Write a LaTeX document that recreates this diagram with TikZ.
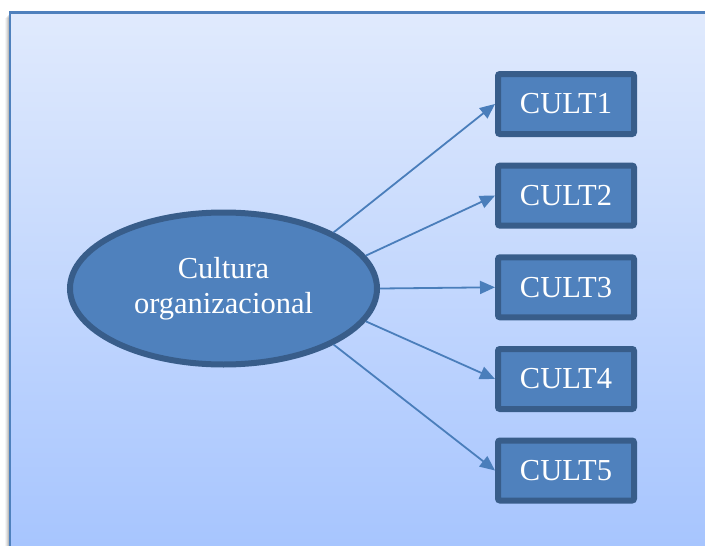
\documentclass[tikz,border=0pt]{standalone}
\usepackage{fontspec}
\setmainfont{Liberation Serif}
\usetikzlibrary{arrows.meta,shapes.geometric}
\definecolor{panelTop}{RGB}{224,234,253}
\definecolor{panelBot}{RGB}{167,197,254}
\definecolor{frameBlue}{RGB}{79,129,189}
\definecolor{shapeFill}{RGB}{79,129,189}
\definecolor{shapeLine}{RGB}{56,93,138}
\definecolor{linkBlue}{RGB}{74,126,187}
\tikzset{
  factor/.style={ellipse, draw=shapeLine, fill=shapeFill, line width=6pt,
    minimum width=307pt, minimum height=152pt, inner sep=0pt,
    text=white, align=center, font=\fontsize{30.5}{35}\selectfont},
  itembox/.style={rectangle, rounded corners=2pt, draw=shapeLine, fill=shapeFill,
    line width=6pt, minimum width=136pt, minimum height=60pt, inner sep=0pt,
    text=white, font=\fontsize{30.5}{35}\selectfont},
  link/.style={draw=linkBlue, line width=1.8pt,
    -{Triangle[length=15pt,width=13pt]}}
}
\begin{document}
\begin{tikzpicture}[x=1pt,y=-1pt]
  \fill[white] (0,0) rectangle (705,546);
  \useasboundingbox (0,0) rectangle (705,546);
  \clip (0,0) rectangle (705,546);
  % soft shadow to the left of the panel
  \foreach \d/\o in {5/0.04,4/0.06,3/0.08,2/0.10,1/0.12}{
    \fill[black,opacity=\o] (10-\d,12.5+\d) rectangle (11,546);
  }
  % gradient panel, running past the page on the right and bottom
  \fill[panelBot] (10,12.5) rectangle (720,560);
  \shade[top color=panelTop, bottom color=panelBot] (10,12.5) rectangle (720,546);
  \draw[frameBlue, line width=2.5pt] (720,12.5) -- (10,12.5) -- (10,560);

  % latent factor
  \node[factor] (cult) at (223.5,288.5) {Cultura\\organizacional};

  % indicators
  \node[itembox] (c1) at (566,104)   {CULT1};
  \node[itembox] (c2) at (566,195.6) {CULT2};
  \node[itembox] (c3) at (566,287.3) {CULT3};
  \node[itembox] (c4) at (566,379)   {CULT4};
  \node[itembox] (c5) at (566,470.5) {CULT5};

  % loadings
  \draw[link] (cult.27)  -- (c1.west);
  \draw[link] (cult.13)  -- (c2.west);
  \draw[link] (cult.0)   -- (c3.west);
  \draw[link] (cult.-13) -- (c4.west);
  \draw[link] (cult.-27) -- (c5.west);
\end{tikzpicture}
\end{document}
